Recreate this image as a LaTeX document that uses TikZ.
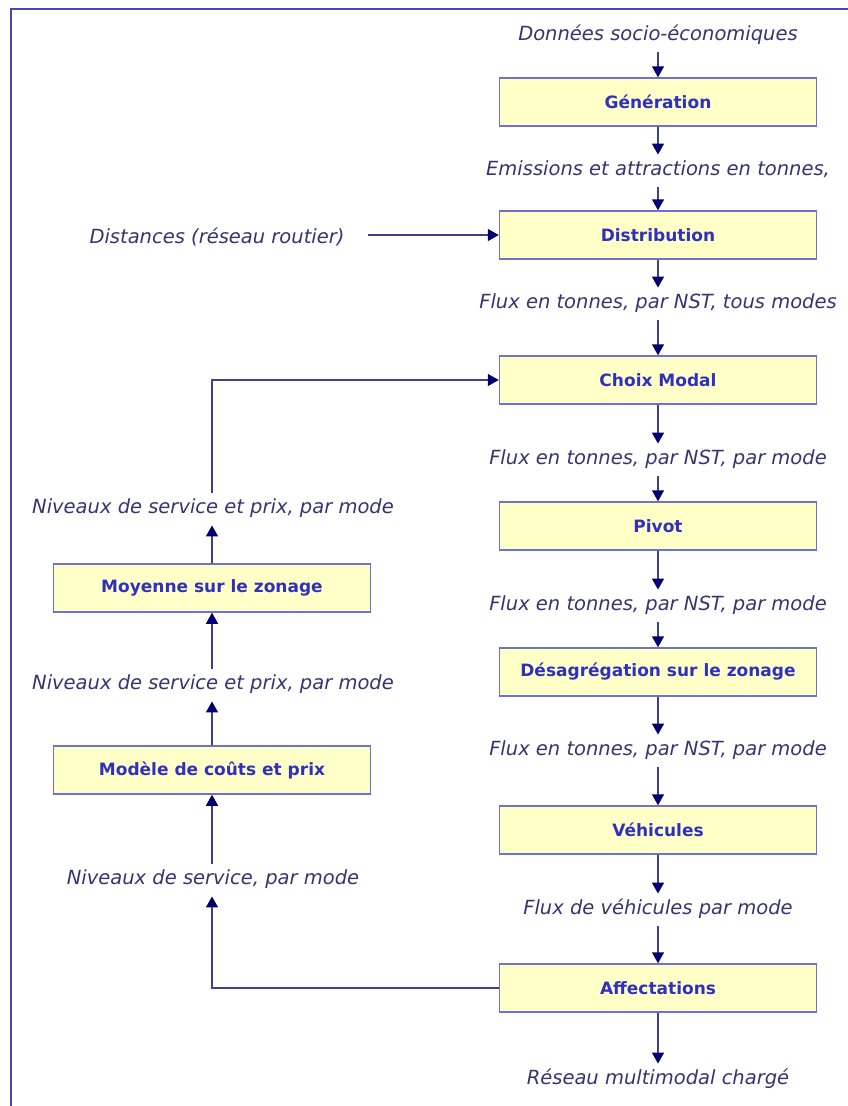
\documentclass[tikz,border=0pt]{standalone}
\usepackage{fontspec}
\setmainfont{DejaVu Sans}
\usetikzlibrary{arrows.meta}
\definecolor{boxfill}{HTML}{FFFFC8}
\definecolor{boxdraw}{HTML}{7070D0}
\definecolor{boxtext}{HTML}{3030C0}
\definecolor{lbltext}{HTML}{343470}
\definecolor{arrline}{HTML}{404090}
\definecolor{arrtip}{HTML}{000070}
\definecolor{framecol}{HTML}{4848A8}
\tikzset{
  etape/.style={
    draw=boxdraw, line width=1.5pt, fill=boxfill,
    minimum width=317pt, minimum height=48pt,
    font=\fontsize{17}{19}\selectfont\bfseries, text=boxtext
  },
  lbl/.style={
    font=\fontsize{19.5}{21}\selectfont\itshape, text=lbltext,
    text height=14pt, text depth=4.5pt, inner ysep=7pt
  },
  sig/.style={-{Triangle[length=11pt,width=12pt,color=arrtip]},
    draw=arrline, line width=1.5pt},
  cadre/.style={draw=framecol, line width=2pt}
}

\begin{document}
\begin{tikzpicture}[x=1pt, y=-1pt]
  \useasboundingbox (0,0) rectangle (848,1106);
  \draw[cadre] (11,1106) -- (11,9) -- (848,9);

  % colonne principale
  \node[lbl]   (ldon)   at (658,36)  {Données socio-économiques};
  \node[etape] (gen)    at (658,102) {Génération};
  \node[lbl]   (lemi)   at (658,171) {Emissions et attractions en tonnes,};
  \node[etape] (dist)   at (658,235) {Distribution};
  \node[lbl]   (lflux1) at (658,304) {Flux en tonnes, par NST, tous modes};
  \node[etape] (modal)  at (658,380) {Choix Modal};
  \node[lbl]   (lflux2) at (658,460) {Flux en tonnes, par NST, par mode};
  \node[etape] (pivot)  at (658,526) {Pivot};
  \node[lbl]   (lflux3) at (658,606) {Flux en tonnes, par NST, par mode};
  \node[etape] (desag)  at (658,672) {Désagrégation sur le zonage};
  \node[lbl]   (lflux4) at (658,751) {Flux en tonnes, par NST, par mode};
  \node[etape] (veh)    at (658,830) {Véhicules};
  \node[lbl]   (lveh)   at (658,910) {Flux de véhicules par mode};
  \node[etape] (affect) at (658,988) {Affectations};
  \node[lbl]   (lres)   at (658,1080) {Réseau multimodal chargé};

  % entree laterale
  \node[lbl]   (ldist)  at (217,239) {Distances (réseau routier)};

  % boucle de retour
  \node[lbl]   (lniv1)  at (213,509) {Niveaux de service et prix, par mode};
  \node[etape] (moy)    at (212,588) {Moyenne sur le zonage};
  \node[lbl]   (lniv2)  at (213,685) {Niveaux de service et prix, par mode};
  \node[etape] (cout)   at (212,770) {Modèle de coûts et prix};
  \node[lbl]   (lniv3)  at (213,880) {Niveaux de service, par mode};

  \draw[sig] (ldon)   -- (gen);
  \draw[sig] (gen)    -- (lemi);
  \draw[sig] (lemi)   -- (dist);
  \draw[sig] (dist)   -- (lflux1);
  \draw[sig] (lflux1) -- (modal);
  \draw[sig] (modal)  -- (lflux2);
  \draw[sig] (lflux2) -- (pivot);
  \draw[sig] (pivot)  -- (lflux3);
  \draw[sig] (lflux3) -- (desag);
  \draw[sig] (desag)  -- (lflux4);
  \draw[sig] (lflux4) -- (veh);
  \draw[sig] (veh)    -- (lveh);
  \draw[sig] (lveh)   -- (affect);
  \draw[sig] (affect) -- (lres);

  \draw[sig, shorten <=20pt] (ldist.east |- dist.west) -- (dist.west);

  \draw[sig] (affect.west) -| (cout.south |- lniv3.south);
  \draw[sig] (cout.south |- lniv3.north) -- (cout);
  \draw[sig] (cout)  -- (cout.north |- lniv2.south);
  \draw[sig] (moy.south |- lniv2.north) -- (moy);
  \draw[sig] (moy)   -- (moy.north |- lniv1.south);
  \draw[sig] (moy.north |- lniv1.north) |- (modal.west);
\end{tikzpicture}
\end{document}
